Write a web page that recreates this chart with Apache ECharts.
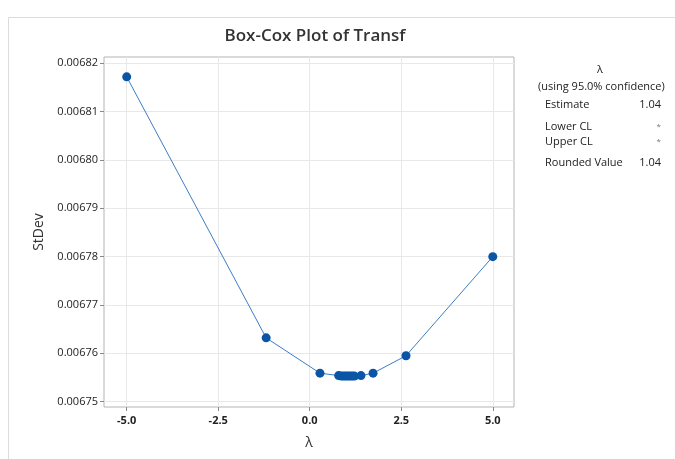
<!DOCTYPE html>
<html>
<head>
<meta charset="utf-8">
<script src="https://cdn.jsdelivr.net/npm/echarts@6/dist/echarts.min.js"></script>
<style>html,body{margin:0;padding:0;background:#fff}#c{width:675px;height:459px}</style>
</head>
<body>
<div id="c"></div>
<script>
const lambdas = [-5, -1.19, 0.28, 0.79, 0.86, 0.92, 0.98, 1.04, 1.10, 1.16, 1.22, 1.40, 1.73, 2.63, 5];
const stdevs  = [0.0068172, 0.0067632, 0.0067559, 0.0067554, 0.0067553, 0.0067553, 0.0067553, 0.0067553, 0.0067553, 0.0067553, 0.0067553, 0.0067554, 0.0067559, 0.0067595, 0.0067800];
const xTicks = [-5, -2.5, 0, 2.5, 5];
const yTicks = [0.00675, 0.00676, 0.00677, 0.00678, 0.00679, 0.00680, 0.00681, 0.00682];
const infoLabels = ['Estimate', 'Lower CL', 'Upper CL', 'Rounded Value'];
const infoValues = ['1.04', '*', '*', '1.04'];

const font = '"Open Sans", "Noto Sans", sans-serif';
const chart = echarts.init(document.getElementById('c'), null, {renderer: 'canvas'});
const infoY = [106, 128, 143, 164];
const graphics = [
  {type: 'rect', shape: {x: 8.5, y: 17.5, width: 700, height: 460}, style: {fill: 'none', stroke: '#dcdcdc', lineWidth: 1}, silent: true},
  {type: 'text', left: 597, top: 64, style: {text: 'λ', font: '11px ' + font, fill: '#222'}},
  {type: 'text', left: 538, top: 81, style: {text: '(using 95.0% confidence)', font: '11px ' + font, fill: '#222'}}
];
infoLabels.forEach((t, i) => {
  const isStar = infoValues[i] === '*';
  graphics.push({type: 'text', left: 545, top: infoY[i] - 7, style: {text: t, font: '11px ' + font, fill: '#222'}});
  graphics.push({type: 'text', right: 14, top: infoY[i] - (isStar ? 5 : 7), style: {text: infoValues[i], font: (isStar ? '8px ' : '11px ') + font, fill: isStar ? '#777' : '#222', align: 'right'}});
});

chart.setOption({
  animation: false,
  title: {
    text: 'Box-Cox Plot of Transf', left: 310, top: 23, textAlign: 'center',
    textStyle: {fontFamily: font, fontSize: 17, fontWeight: 600, color: '#333'}
  },
  grid: {left: 104, top: 57, width: 410, height: 350, show: true, borderColor: '#b4b4b4', borderWidth: 1, backgroundColor: 'transparent'},
  xAxis: {
    type: 'value', min: -5.62, max: 5.58,
    name: 'λ', nameLocation: 'middle', nameGap: 29,
    nameTextStyle: {fontFamily: font, fontSize: 14, color: '#333'},
    axisLine: {show: false, onZero: false},
    axisTick: {show: true, customValues: xTicks, length: 4, lineStyle: {color: '#888'}},
    axisLabel: {customValues: xTicks, formatter: v => v.toFixed(1), fontFamily: font, fontSize: 11, color: '#222', fontWeight: 'bold', margin: 8},
    splitLine: {show: true, lineStyle: {color: '#e8e8e8'}}
  },
  yAxis: {
    type: 'value', min: 0.0067489, max: 0.0068213,
    name: 'StDev', nameLocation: 'middle', nameGap: 56, nameRotate: 90,
    nameTextStyle: {fontFamily: font, fontSize: 14, color: '#333'},
    axisLine: {show: false, onZero: false},
    axisTick: {show: true, customValues: yTicks, length: 4, lineStyle: {color: '#888'}},
    axisLabel: {customValues: yTicks, formatter: v => v.toFixed(5), fontFamily: font, fontSize: 11, color: '#222', margin: 6},
    splitLine: {show: true, lineStyle: {color: '#e8e8e8'}}
  },
  series: [{
    type: 'line',
    data: lambdas.map((x, i) => [x, stdevs[i]]),
    symbol: 'circle', symbolSize: 9,
    lineStyle: {color: '#3d7cc4', width: 1},
    itemStyle: {color: '#0a55a5'}
  }],
  graphic: graphics
});
</script>
</body>
</html>
